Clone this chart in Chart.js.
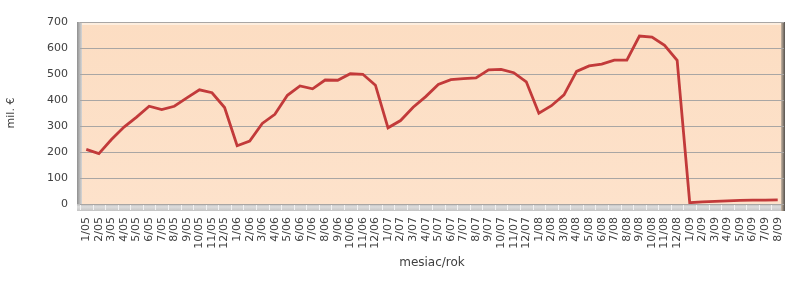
<!DOCTYPE html>
<html>
<head>
<meta charset="utf-8">
<script src="https://cdn.jsdelivr.net/npm/chart.js@4/dist/chart.umd.min.js"></script>
<style>
  html, body { margin: 0; padding: 0; background: #fff; }
  #wrap { width: 800px; height: 281px; position: relative; }
</style>
</head>
<body>
<div id="wrap"><canvas id="chart"></canvas></div>
<script>
const months = [
  '1/05','2/05','3/05','4/05','5/05','6/05','7/05','8/05','9/05','10/05','11/05','12/05',
  '1/06','2/06','3/06','4/06','5/06','6/06','7/06','8/06','9/06','10/06','11/06','12/06',
  '1/07','2/07','3/07','4/07','5/07','6/07','7/07','8/07','9/07','10/07','11/07','12/07',
  '1/08','2/08','3/08','4/08','5/08','6/08','7/08','8/08','9/08','10/08','11/08','12/08',
  '1/09','2/09','3/09','4/09','5/09','6/09','7/09','8/09'
];

const values = [
  210, 194, 248, 296, 334, 376, 363, 376, 408, 439, 428, 371,
  224, 242, 310, 345, 418, 454, 443, 477, 476, 501, 499, 457,
  293, 321, 372, 413, 460, 478, 482, 485, 516, 518, 505, 470,
  349, 378, 420, 510, 531, 538, 553, 553, 646, 642, 610, 553,
  5, 8, 10, 12, 14, 15, 15, 16
];

const yTicks = [0, 100, 200, 300, 400, 500, 600, 700];

const LINE = '#c23a3a';
const GRID = '#a9a6a4';
const TEXT = '#404040';

// peach panel with a grey wall on the left, a grey floor underneath and a dark edge on the right
const framePlugin = {
  id: 'frame',
  beforeDraw(chart) {
    const { ctx, chartArea } = chart;
    if (!chartArea) return;
    const { left, right, top, bottom } = chartArea;
    ctx.save();
    const g = ctx.createLinearGradient(0, top, 0, bottom);
    g.addColorStop(0, '#fcddc2');
    g.addColorStop(1, '#fde2cb');
    ctx.fillStyle = g;
    ctx.fillRect(left, top, right - left, bottom - top);
    // light top rim
    ctx.fillStyle = '#fdeedf';
    ctx.fillRect(left, top, right - left, 3);
    ctx.strokeStyle = '#cdbba8';
    ctx.lineWidth = 1;
    ctx.beginPath();
    ctx.moveTo(left, top + 0.5);
    ctx.lineTo(right, top + 0.5);
    ctx.stroke();

    // left wall
    const wg = ctx.createLinearGradient(left - 3, 0, left + 2, 0);
    wg.addColorStop(0, '#8e8e8e');
    wg.addColorStop(0.5, '#b4b4b4');
    wg.addColorStop(1, '#d6d6d6');
    ctx.fillStyle = wg;
    ctx.fillRect(left - 3, top, 5, bottom - top + 7);

    // floor
    const fg = ctx.createLinearGradient(0, bottom, 0, bottom + 7);
    fg.addColorStop(0, '#b9b9b9');
    fg.addColorStop(0.4, '#dcdcdc');
    fg.addColorStop(1, '#c4c4c4');
    ctx.fillStyle = fg;
    ctx.fillRect(left - 3, bottom, right - left + 3, 7);
    const xs = chart.scales.x;
    const step = xs.getPixelForValue(1) - xs.getPixelForValue(0);
    ctx.strokeStyle = '#f2f2f2';
    for (let i = 0; i <= months.length; i++) {
      const x = Math.round(xs.getPixelForValue(i) - step / 2) + 0.5;
      ctx.beginPath();
      ctx.moveTo(x, bottom + 1);
      ctx.lineTo(x, bottom + 6);
      ctx.stroke();
    }

    // right edge shadow
    const rg = ctx.createLinearGradient(right - 3, 0, right + 1, 0);
    rg.addColorStop(0, '#c9b8a6');
    rg.addColorStop(1, '#55514d');
    ctx.fillStyle = rg;
    ctx.fillRect(right - 3, top, 4, bottom - top + 7);
    ctx.restore();
  }
};

new Chart(document.getElementById('chart'), {
  type: 'line',
  plugins: [framePlugin],
  data: {
    labels: months,
    datasets: [{
      data: values,
      borderColor: LINE,
      borderWidth: 2.8,
      pointRadius: 0,
      tension: 0,
      fill: false
    }]
  },
  options: {
    responsive: true,
    maintainAspectRatio: false,
    animation: false,
    layout: { padding: { top: 22, right: 16, bottom: 0, left: 0 } },
    scales: {
      x: {
        offset: true,
        afterFit: s => { s.height = 77; s.paddingLeft = 0; s.paddingRight = 0; },
        grid: { display: false, drawTicks: false },
        border: { display: false },
        ticks: {
          autoSkip: false,
          minRotation: 90,
          maxRotation: 90,
          padding: 13,
          color: TEXT,
          font: { family: 'DejaVu Sans', size: 11 }
        },
        title: {
          display: true,
          text: 'mesiac/rok',
          color: TEXT,
          font: { family: 'DejaVu Sans', size: 12 },
          padding: { top: 0, bottom: 11 }
        }
      },
      y: {
        min: 0,
        max: 700,
        afterFit: s => { s.width = 80; },
        afterBuildTicks: s => { s.ticks = yTicks.map(v => ({ value: v })); },
        grid: { color: GRID, lineWidth: 1, drawTicks: false },
        border: { display: false },
        ticks: {
          padding: 12,
          color: TEXT,
          font: { family: 'DejaVu Sans', size: 11 }
        },
        title: {
          display: true,
          text: 'mil. €',
          color: TEXT,
          font: { family: 'DejaVu Sans', size: 11 },
          padding: { top: 5, bottom: 0 }
        }
      }
    },
    plugins: {
      legend: { display: false },
      tooltip: { enabled: false }
    }
  }
});
</script>
</body>
</html>
